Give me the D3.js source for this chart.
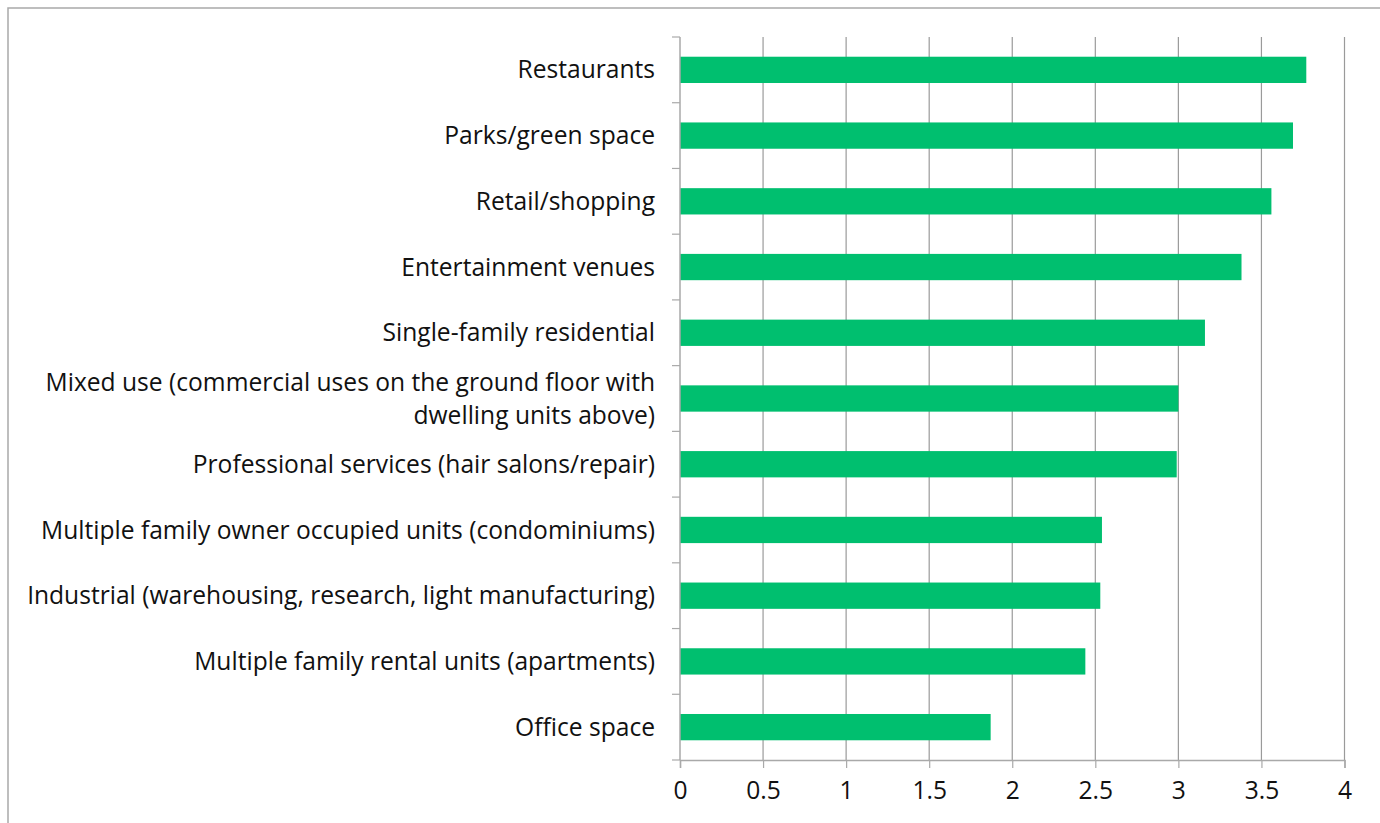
<!DOCTYPE html>
<html><head><meta charset="utf-8">
<script src="https://cdn.jsdelivr.net/npm/d3@7"></script>
<style>body{margin:0;background:#fff}svg{display:block}</style>
</head><body>
<svg id="c" width="1380" height="823"></svg>
<script>
const categories = [
  "Restaurants",
  "Parks/green space",
  "Retail/shopping",
  "Entertainment venues",
  "Single-family residential",
  "Mixed use (commercial uses on the ground floor with\ndwelling units above)",
  "Professional services (hair salons/repair)",
  "Multiple family owner occupied units (condominiums)",
  "Industrial (warehousing, research, light manufacturing)",
  "Multiple family rental units (apartments)",
  "Office space"
];
const values = [3.77, 3.69, 3.56, 3.38, 3.16, 3.00, 2.99, 2.54, 2.53, 2.44, 1.87];
const xTicks = [0, 0.5, 1, 1.5, 2, 2.5, 3, 3.5, 4];

const svg = d3.select("#c");
const font = "Open Sans, Liberation Sans, sans-serif";
const fs = 24.6;
const m = {left: 680, right: 1344.5, top: 37, bottom: 760};

// outer frame
svg.append("path").attr("d", "M8,823 L8,8 L1380,8")
  .attr("fill", "none").attr("stroke", "#a9a9a9").attr("stroke-width", 1.5);

const x = d3.scaleLinear().domain([0, 4]).range([m.left, m.right]);
const y = d3.scaleBand().domain(categories).range([m.top, m.bottom]).paddingInner(0.6).paddingOuter(0.3);
const yb = d3.scaleBand().domain(categories).range([m.top, m.bottom]);

// gridlines
svg.append("g").selectAll("line").data(xTicks.slice(1)).join("line")
  .attr("x1", d => x(d)).attr("x2", d => x(d))
  .attr("y1", m.top).attr("y2", m.bottom)
  .attr("stroke", "#9a9a9a").attr("stroke-width", 1.2);

// bars
svg.append("g").selectAll("rect").data(values).join("rect")
  .attr("x", x(0)).attr("y", (d, i) => y(categories[i]))
  .attr("width", d => x(d) - x(0)).attr("height", y.bandwidth())
  .attr("fill", "#00bf6f");

// x axis
const xa = svg.append("g").attr("transform", `translate(0,${m.bottom})`)
  .call(d3.axisBottom(x).tickValues(xTicks).tickSize(8).tickPadding(14).tickFormat(d3.format("")));
xa.select(".domain").attr("stroke", "#a9a9a9").attr("stroke-width", 1.5);
xa.selectAll(".tick line").attr("stroke", "#a9a9a9").attr("stroke-width", 1.2);
xa.selectAll("text").attr("font-family", font).attr("font-size", fs).attr("fill", "#111");

// y axis line + boundary ticks
const ya = svg.append("g");
ya.append("line").attr("x1", m.left).attr("x2", m.left).attr("y1", m.top).attr("y2", m.bottom)
  .attr("stroke", "#a9a9a9").attr("stroke-width", 1.5);
const bounds = categories.map(c => yb(c)).concat([m.bottom]);
ya.selectAll("line.t").data(bounds).join("line").attr("class", "t")
  .attr("x1", m.left - 8).attr("x2", m.left).attr("y1", d => d).attr("y2", d => d)
  .attr("stroke", "#a9a9a9").attr("stroke-width", 1.2);

// category labels
const lbl = svg.append("g").selectAll("text").data(categories).join("text")
  .attr("text-anchor", "end").attr("font-family", font).attr("font-size", fs).attr("fill", "#111")
  .attr("transform", d => `translate(655,${yb(d) + yb.bandwidth() / 2})`);
lbl.each(function(d) {
  const lines = d.split("\n");
  const t = d3.select(this);
  const lh = 33;
  lines.forEach((l, i) => {
    t.append("tspan").attr("x", 0)
      .attr("y", (i - (lines.length - 1) / 2) * lh).attr("dy", "0.35em").text(l);
  });
});
</script>
</body></html>
